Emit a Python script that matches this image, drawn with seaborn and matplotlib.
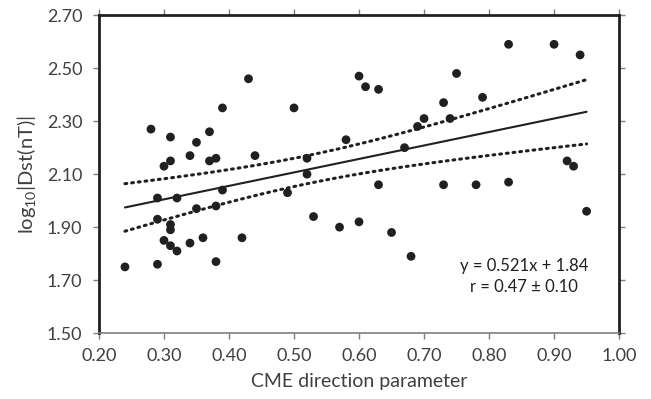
import numpy as np
import pandas as pd
import seaborn as sns
import matplotlib
matplotlib.use("Agg")
import matplotlib.pyplot as plt

# ------ data ------ #
cme_dir = [
    0.28, 0.43, 0.39, 0.50, 0.31, 0.35, 0.37, 0.34, 0.31, 0.37,
    0.38, 0.44, 0.30, 0.52, 0.29, 0.32, 0.39, 0.52, 0.49, 0.35,
    0.38, 0.29, 0.31, 0.31, 0.30, 0.31, 0.32, 0.34, 0.36, 0.42,
    0.24, 0.29, 0.38, 0.60, 0.61, 0.63, 0.75, 0.73, 0.70, 0.74,
    0.69, 0.58, 0.67, 0.63, 0.73, 0.53, 0.57, 0.60, 0.65, 0.68,
    0.83, 0.90, 0.94, 0.79, 0.92, 0.93, 0.78, 0.83, 0.95,
]
log_dst = [
    2.27, 2.46, 2.35, 2.35, 2.24, 2.22, 2.26, 2.17, 2.15, 2.15,
    2.16, 2.17, 2.13, 2.16, 2.01, 2.01, 2.04, 2.10, 2.03, 1.97,
    1.98, 1.93, 1.91, 1.89, 1.85, 1.83, 1.81, 1.84, 1.86, 1.86,
    1.75, 1.76, 1.77, 2.47, 2.43, 2.42, 2.48, 2.37, 2.31, 2.31,
    2.28, 2.23, 2.20, 2.06, 2.06, 1.94, 1.90, 1.92, 1.88, 1.79,
    2.59, 2.59, 2.55, 2.39, 2.15, 2.13, 2.06, 2.07, 1.96,
]
fit_text = ["y = 0.521x + 1.84", "r = 0.47 \u00b1 0.10"]
x_ticks = np.arange(0.20, 1.001, 0.10)
y_ticks = np.arange(1.50, 2.701, 0.20)

df = pd.DataFrame({"cme": cme_dir, "dst": log_dst})

sns.set_style("ticks")
plt.rcParams["font.family"] = ["Lato", "DejaVu Sans"]
plt.rcParams["mathtext.default"] = "regular"

fig, ax = plt.subplots(figsize=(6.51, 3.99), dpi=100, facecolor="w")
fig.subplots_adjust(left=0.152, right=0.951, top=0.962, bottom=0.165)

# ------ scatter ------ #
sns.scatterplot(x="cme", y="dst", data=df, ax=ax, s=40,
                color="#231f20", edgecolor="none", zorder=3)

# ------ linear fit and 95% confidence band ------ #
x = df["cme"].to_numpy()
y = df["dst"].to_numpy()
slope, icpt = np.polyfit(x, y, 1)
xs = np.linspace(x.min(), x.max(), 100)
ys = slope * xs + icpt
n = len(x)
resid = y - (slope * x + icpt)
s_err = np.sqrt(np.sum(resid ** 2) / (n - 2))
sxx = np.sum((x - x.mean()) ** 2)
half = 2.002 * s_err * np.sqrt(1 / n + (xs - x.mean()) ** 2 / sxx)

ax.plot(xs, ys, color="#231f20", lw=1.5)
ax.plot(xs, ys + half, color="#231f20", lw=2.2, ls=(0, (0.6, 1.6)),
        dash_capstyle="round")
ax.plot(xs, ys - half, color="#231f20", lw=2.2, ls=(0, (0.6, 1.6)),
        dash_capstyle="round")

ax.text(0.854, 1.753, fit_text[0], ha="center", va="center",
        fontsize=12, color="#231f20")
ax.text(0.854, 1.674, fit_text[1], ha="center", va="center",
        fontsize=12, color="#231f20")

# ------ axes ------ #
ax.set_xlim(0.20, 1.00)
ax.set_ylim(1.50, 2.70)
ax.set_xticks(x_ticks)
ax.set_yticks(y_ticks)
ax.set_xticklabels(["%.2f" % v for v in x_ticks])
ax.set_yticklabels(["%.2f" % v for v in y_ticks])
ax.tick_params(axis="both", direction="out", length=4, width=1,
               color="#7f7f7f", labelsize=13, labelcolor="#404040",
               top=True, right=True)
ax.tick_params(axis="x", pad=7)
ax.tick_params(axis="y", pad=8)
for side in ["left", "top", "right"]:
    ax.spines[side].set_linewidth(2)
    ax.spines[side].set_color("#231f20")
ax.spines["bottom"].set_linewidth(1.2)
ax.spines["bottom"].set_color("#7f7f7f")

ax.set_xlabel("CME direction parameter", fontsize=14, color="#404040",
              labelpad=6)
ax.set_ylabel(r"log$_{10}$|Dst(nT)|", fontsize=14.5, color="#404040",
              labelpad=6)

plt.savefig("out.png", dpi=100)
